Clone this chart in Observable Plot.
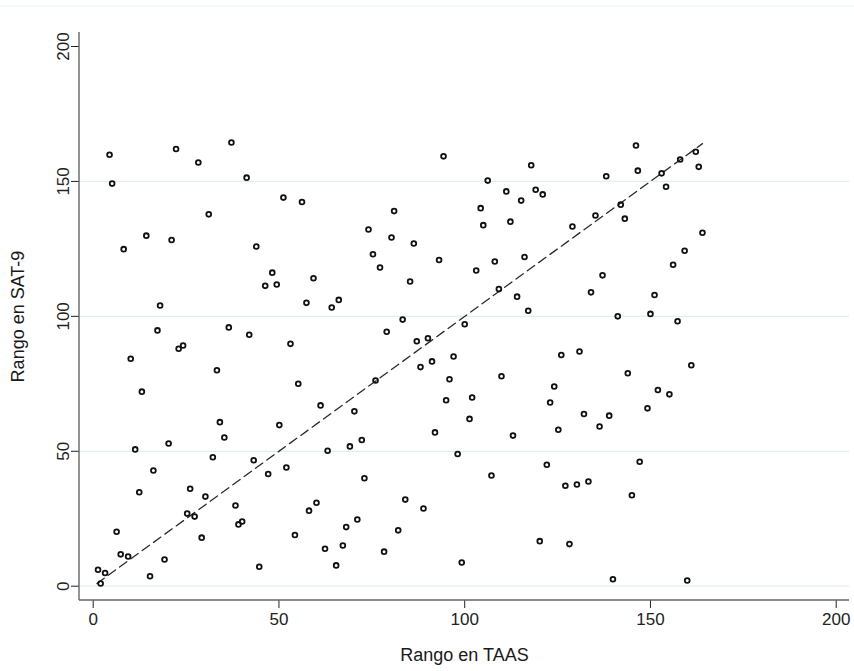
<!DOCTYPE html>
<html>
<head>
<meta charset="utf-8">
<script src="https://cdn.jsdelivr.net/npm/d3@7"></script>
<script src="https://cdn.jsdelivr.net/npm/@observablehq/plot@0.6"></script>
<style>
  html, body { margin: 0; padding: 0; background: #ffffff; }
  #chart { width: 854px; height: 671px; }
</style>
</head>
<body>
<div id="chart"></div>
<script>
// Rank in TAAS (x) and rank in SAT-9 (y)
const taasRank = [
  4.4, 5.1, 22.3, 28.3, 37.2, 41.3, 31.1, 14.3, 21.1, 8.2,
  43.9, 18.0, 17.3, 36.5, 42.0, 23.0, 24.2, 10.1, 33.3, 13.1,
  34.1, 35.3, 11.3, 20.3, 32.2, 43.2, 16.2, 12.4, 26.1, 30.2,
  25.3, 27.3, 38.3, 39.1, 40.1, 6.3, 29.2, 7.4, 9.4, 19.2,
  1.3, 3.2, 2.0, 15.3, 44.7, 94.3, 51.2, 56.2, 81.0, 74.1,
  80.3, 86.3, 75.3, 93.1, 77.2, 48.2, 46.3, 49.4, 59.3, 85.3,
  57.4, 64.2, 66.1, 83.3, 79.0, 87.1, 90.1, 53.1, 91.2, 55.2,
  76.0, 88.1, 95.9, 95.0, 61.2, 70.3, 50.1, 92.0, 63.1, 69.1,
  72.3, 47.1, 52.0, 73.0, 58.1, 60.1, 84.0, 88.9, 54.3, 68.1,
  71.1, 82.1, 62.4, 67.2, 78.3, 65.4, 117.9, 146.1, 146.6, 106.2,
  138.1, 111.2, 119.1, 121.0, 115.2, 104.3, 105.0, 112.3, 142.0, 135.2,
  143.1, 129.0, 103.1, 108.1, 116.1, 109.2, 114.1, 117.1, 134.0, 137.1,
  100.0, 141.2, 97.0, 126.0, 130.9, 143.9, 109.9, 102.0, 124.1, 123.0,
  101.3, 132.1, 138.9, 136.3, 125.2, 113.0, 98.1, 122.1, 107.2, 127.1,
  130.2, 133.3, 145.0, 120.2, 128.2, 99.2, 139.9, 147.1, 162.2, 158.0,
  163.0, 153.0, 154.2, 164.0, 159.2, 156.1, 151.1, 150.0, 157.3, 161.0,
  152.0, 155.1, 149.2, 159.9
];
const sat9Rank = [
  159.9, 149.2, 162.0, 157.0, 164.4, 151.4, 137.8, 129.9, 128.3, 124.9,
  125.9, 104.0, 94.8, 95.9, 93.2, 88.0, 89.2, 84.3, 80.0, 72.1,
  60.8, 55.1, 50.7, 52.9, 47.8, 46.7, 42.9, 34.8, 36.1, 33.2,
  26.9, 25.8, 29.9, 22.9, 24.0, 20.2, 18.0, 11.8, 11.0, 9.9,
  6.1, 4.9, 1.0, 3.7, 7.2, 159.3, 144.0, 142.4, 139.0, 132.2,
  129.2, 127.0, 123.0, 120.9, 118.1, 116.2, 111.3, 111.8, 114.1, 112.9,
  105.0, 103.3, 106.1, 98.8, 94.3, 90.8, 91.9, 89.8, 83.3, 75.0,
  76.2, 81.2, 76.7, 68.9, 67.0, 64.8, 59.7, 57.0, 50.2, 51.8,
  54.2, 41.6, 44.0, 40.0, 28.0, 30.9, 32.1, 28.8, 19.0, 21.9,
  24.7, 20.7, 13.9, 15.1, 12.8, 7.7, 156.0, 163.3, 154.0, 150.3,
  151.9, 146.3, 146.9, 145.2, 142.9, 140.1, 133.8, 135.1, 141.4, 137.4,
  136.2, 133.3, 117.0, 120.3, 122.0, 110.1, 107.3, 102.1, 108.9, 115.2,
  97.1, 100.0, 85.1, 85.7, 87.0, 78.9, 77.8, 69.9, 74.0, 68.1,
  62.0, 63.8, 63.2, 59.2, 58.0, 55.8, 49.0, 45.0, 41.0, 37.2,
  37.7, 38.8, 33.7, 16.7, 15.6, 8.8, 2.6, 46.1, 161.0, 158.1,
  155.4, 153.0, 148.0, 131.0, 124.3, 119.1, 107.9, 100.9, 98.2, 81.9,
  72.7, 71.1, 65.9, 2.1
];
// dashed reference line (rank = rank)
const lineX = [1, 164];
const lineY = [1, 164];
// axes
const xTicks = [0, 50, 100, 150, 200];
const yTicks = [0, 50, 100, 150, 200];
const gridValues = [0, 50, 100, 150];
const xTitle = "Rango en TAAS";
const yTitle = "Rango en SAT-9";

const points = taasRank.map((x, i) => ({x, y: sat9Rank[i]}));
const fitLine = lineX.map((x, i) => ({x, y: lineY[i]}));

const W = 854, H = 671;
const mL = 79, mR = 5, mT = 32, mB = 71;

const chart = Plot.plot({
  width: W,
  height: H,
  marginLeft: mL,
  marginRight: mR,
  marginTop: mT,
  marginBottom: mB,
  style: {
    fontFamily: "'Liberation Sans', Arial, sans-serif",
    fontSize: "17px",
    color: "#222",
    background: "#ffffff",
    overflow: "visible"
  },
  x: {domain: [0, 200], insetLeft: 13.7, insetRight: 13.3, ticks: xTicks, tickSize: 8, tickPadding: 4, label: null},
  y: {domain: [0, 200], insetTop: 14, insetBottom: 14.3, ticks: yTicks, tickSize: 8, tickPadding: 3, tickRotate: -90, label: null},
  marks: [
    Plot.ruleY(gridValues, {stroke: "#e3eef0", strokeWidth: 1.3}),
    Plot.line(fitLine, {x: "x", y: "y", stroke: "#2a2a2a", strokeWidth: 1.3, strokeDasharray: "9,5"}),
    Plot.dot(points, {x: "x", y: "y", r: 2.4, stroke: "#111", strokeWidth: 1.8, fill: "none"}),
    Plot.text([xTitle], {frameAnchor: "bottom", dy: 60, textAnchor: "middle", fontSize: 18, fill: "#1a1a1a"}),
    Plot.text([yTitle], {frameAnchor: "left", dx: -61, rotate: -90, textAnchor: "middle", fontSize: 18, fill: "#1a1a1a"})
  ]
});

document.getElementById("chart").appendChild(chart);

// Stata-style axis lines and a faint outer rule
const svg = d3.select(chart);
const axisG = svg.append("g").attr("stroke", "#666").attr("stroke-width", 1.4);
axisG.append("line").attr("x1", mL).attr("x2", mL).attr("y1", mT).attr("y2", H - mB);
axisG.append("line").attr("x1", mL).attr("x2", W - mR).attr("y1", H - mB).attr("y2", H - mB);
svg.append("line").attr("x1", 0).attr("x2", W).attr("y1", 6).attr("y2", 6)
  .attr("stroke", "#eef4f4").attr("stroke-width", 1);
</script>
</body>
</html>
